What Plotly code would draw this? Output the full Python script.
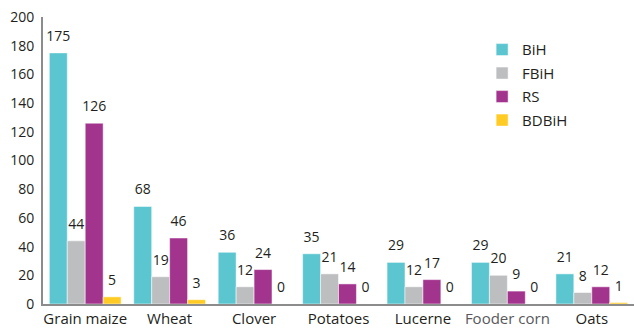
import plotly.graph_objects as go

categories = ["Grain maize", "Wheat", "Clover", "Potatoes", "Lucerne", "Fooder corn", "Oats"]
bih = [175, 68, 36, 35, 29, 29, 21]
fbih = [44, 19, 12, 21, 12, 20, 8]
rs = [126, 46, 24, 14, 17, 9, 12]
bdbih = [5, 3, 0, 0, 0, 0, 1]

series = [
    ("BiH", bih, "#5BC6D0"),
    ("FBiH", fbih, "#BDBEC0"),
    ("RS", rs, "#A3348E"),
    ("BDBiH", bdbih, "#FFCB24"),
]

font_family = "Open Sans, Lato, sans-serif"
text_color = "#231F20"

# "Fooder corn" is printed in a lighter grey than the other category names
tick_text = [
    f"<span style='color:#58595B'>{c}</span>" if c == "Fooder corn" else c
    for c in categories
]

fig = go.Figure()
for name, vals, color in series:
    fig.add_trace(go.Bar(
        name=name,
        x=categories,
        y=vals,
        offsetgroup=name,
        legendgroup=name,
        marker=dict(color=color, line=dict(color="rgba(255,255,255,0.5)", width=1)),
        hoverinfo="skip",
    ))

# value labels, placed in the same group slots as the bars
for name, vals, color in series:
    fig.add_trace(go.Scatter(
        x=categories,
        y=vals,
        offsetgroup=name,
        legendgroup=name,
        showlegend=False,
        mode="markers+text",
        marker=dict(size=12, opacity=0),
        text=[str(v) for v in vals],
        textposition="top center",
        cliponaxis=False,
        textfont=dict(family=font_family, size=14, color=text_color),
    ))

fig.update_layout(
    width=634,
    height=328,
    margin=dict(l=43, r=0, t=17, b=22),
    paper_bgcolor="white",
    plot_bgcolor="white",
    barmode="group",
    bargap=0.15,
    bargroupgap=0,
    scattermode="group",
    scattergap=0.15,
    font=dict(family=font_family, size=14, color=text_color),
    showlegend=True,
    legend=dict(
        x=0.743, y=0.943, xanchor="left", yanchor="top",
        font=dict(family=font_family, size=15, color=text_color),
        bgcolor="rgba(0,0,0,0)",
        traceorder="grouped",
        tracegroupgap=1,
        itemclick=False,
    ),
    xaxis=dict(
        showline=True, linecolor="#8C8C8C", linewidth=2,
        showgrid=False, ticks="",
        tickmode="array", tickvals=categories, ticktext=tick_text,
        tickfont=dict(family=font_family, size=15, color=text_color),
    ),
    yaxis=dict(
        range=[0, 200], dtick=20,
        showline=True, linecolor="#8C8C8C", linewidth=2,
        showgrid=False, zeroline=False, ticks="",
        ticklabelstandoff=4,
        tickfont=dict(family=font_family, size=14, color=text_color),
    ),
)

fig.write_html("out.html")
